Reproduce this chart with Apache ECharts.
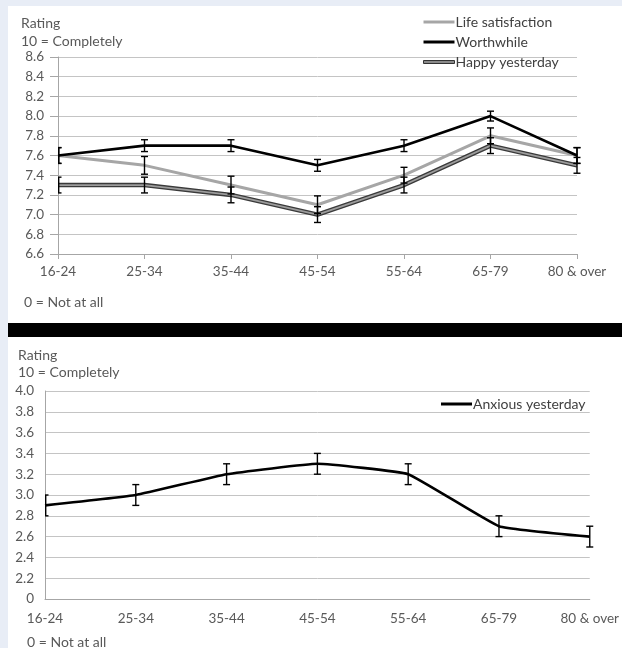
<!DOCTYPE html>
<html><head><meta charset="utf-8">
<script src="https://cdn.jsdelivr.net/npm/echarts@6/dist/echarts.min.js"></script>
<style>
html,body{margin:0;padding:0;background:#e8edf6;overflow:hidden;}
#wrap{position:relative;width:622px;height:648px;}
.p{position:absolute;}
#c{position:absolute;left:0;top:0;width:622px;height:648px;}
</style>
</head><body>
<div id="wrap">
<div class="p" style="left:8px;top:6px;width:614px;height:317px;background:#fff"></div>
<div class="p" style="left:8px;top:323px;width:614px;height:14px;background:#000"></div>
<div class="p" style="left:8px;top:337px;width:614px;height:311px;background:#fff"></div>
<div id="c"></div>
</div>
<script>
// ---- data ----
const categories = ['16-24','25-34','35-44','45-54','55-64','65-79','80 & over'];
const lifeSatisfaction = [7.6, 7.5, 7.3, 7.1, 7.4, 7.8, 7.6];
const lifeErr          = [0.08, 0.09, 0.09, 0.09, 0.08, 0.08, 0.08];
const worthwhile       = [7.6, 7.7, 7.7, 7.5, 7.7, 8.0, 7.6];
const worthErr         = [0.08, 0.06, 0.06, 0.06, 0.06, 0.05, 0.08];
const happyYesterday   = [7.3, 7.3, 7.2, 7.0, 7.3, 7.7, 7.5];
const happyErr         = [0.08, 0.08, 0.08, 0.08, 0.08, 0.08, 0.08];
const anxiousYesterday = [2.9, 3.0, 3.2, 3.3, 3.2, 2.7, 2.6];
const anxiousErr       = [0.1, 0.1, 0.1, 0.1, 0.1, 0.1, 0.1];
const topAxis = {min: 6.6, max: 8.6, step: 0.2};
const bottomAxis = {min: 2.0, max: 4.0, step: 0.2, breakLabel: '0'};

const FONT = 'Lato, "Open Sans", sans-serif';
const TXT = '#595959';
const GRID = '#c4c4c4';
const AXIS = '#a6a6a6';

function errData(vals, errs){
  return vals.map((v,i)=>[i, +(v-errs[i]).toFixed(3), +(v+errs[i]).toFixed(3)]);
}
function errRender(params, api){
  const x = api.value(0), lo = api.value(1), hi = api.value(2);
  const a = api.coord([x, lo]), b = api.coord([x, hi]);
  const left = params.coordSys.x;
  const w = 3.5, st = {stroke:'#000', lineWidth:1.4};
  const x0 = Math.max(a[0]-w, left), x1 = a[0]+w;
  const xl = Math.max(a[0], left + 0.7);
  return {type:'group', children:[
    {type:'line', shape:{x1:xl,y1:a[1],x2:xl,y2:b[1]}, style:st},
    {type:'line', shape:{x1:x0,y1:a[1],x2:x1,y2:a[1]}, style:st},
    {type:'line', shape:{x1:x0,y1:b[1],x2:x1,y2:b[1]}, style:st}
  ]};
}
function txt(x, y, t){
  return {type:'text', x:x, y:y, style:{text:t, fill:TXT, font:'14px ' + FONT, verticalAlign:'middle'}};
}

const chart = echarts.init(document.getElementById('c'), null, {renderer:'canvas'});
chart.setOption({
  animation:false,
  backgroundColor:'transparent',
  textStyle:{fontFamily:FONT},
  grid:[
    {left:58, top:57, width:519, height:197},
    {left:45, top:391, width:551, height:208}
  ],
  xAxis:[
    {gridIndex:0, type:'category', data:categories, boundaryGap:false,
     axisLine:{lineStyle:{color:AXIS}}, axisTick:{show:true, length:5, lineStyle:{color:AXIS}},
     axisLabel:{color:TXT, fontSize:13.5, margin:11, fontFamily:FONT}, splitLine:{show:false}},
    {gridIndex:1, type:'category', data:categories, boundaryGap:false,
     axisLine:{lineStyle:{color:AXIS}}, axisTick:{show:false},
     axisLabel:{color:TXT, fontSize:13.5, margin:13, fontFamily:FONT}, splitLine:{show:false}}
  ],
  yAxis:[
    {gridIndex:0, type:'value', min:topAxis.min, max:topAxis.max, interval:topAxis.step,
     axisLine:{show:true, lineStyle:{color:AXIS}}, axisTick:{show:true, length:8, lineStyle:{color:AXIS}},
     axisLabel:{color:TXT, fontSize:13.5, margin:14, fontFamily:FONT, formatter:v=>v.toFixed(1)},
     splitLine:{lineStyle:{color:GRID}}},
    {gridIndex:1, type:'value', min:bottomAxis.min, max:bottomAxis.max, interval:bottomAxis.step,
     axisLine:{show:true, lineStyle:{color:AXIS}}, axisTick:{show:false},
     axisLabel:{color:TXT, fontSize:13.5, margin:11, fontFamily:FONT,
       formatter:v=>Math.abs(v-bottomAxis.min)<1e-6 ? bottomAxis.breakLabel : v.toFixed(1)},
     splitLine:{lineStyle:{color:GRID}}}
  ],
  legend:[
    {orient:'vertical', left:423, top:15, padding:0, itemWidth:31, itemHeight:3, itemGap:6,
     textStyle:{color:'#404040', fontSize:14, fontFamily:FONT, padding:[0,0,0,-4]},
     data:[
       {name:'Life satisfaction', icon:'rect', itemStyle:{color:'#a6a6a6'}},
       {name:'Worthwhile', icon:'rect', itemStyle:{color:'#000'}},
       {name:'Happy yesterday', icon:'rect', itemStyle:{color:'#8a8a8a', borderColor:'#333', borderWidth:1}}
     ]},
    {orient:'vertical', left:441, top:397, padding:0, itemWidth:31, itemHeight:3,
     textStyle:{color:'#404040', fontSize:14, fontFamily:FONT, padding:[0,0,0,-4]},
     data:[{name:'Anxious yesterday', icon:'rect', itemStyle:{color:'#000'}}]}
  ],
  graphic:[
    txt(21, 23, 'Rating'),
    txt(21, 41, '10 = Completely'),
    txt(24, 302, '0 = Not at all'),
    txt(18, 355, 'Rating'),
    txt(18, 372, '10 = Completely'),
    txt(27, 642, '0 = Not at all')
  ],
  series:[
    {name:'Life satisfaction', type:'line', xAxisIndex:0, yAxisIndex:0, data:lifeSatisfaction,
     showSymbol:false, lineStyle:{color:'#a6a6a6', width:3}, itemStyle:{color:'#a6a6a6'}, z:2},
    {name:'Happy yesterday', type:'line', xAxisIndex:0, yAxisIndex:0, data:happyYesterday,
     showSymbol:false, lineStyle:{color:'#3a3a3a', width:4.5}, itemStyle:{color:'#3a3a3a'}, z:3},
    {name:'Happy yesterday inner', type:'line', xAxisIndex:0, yAxisIndex:0, data:happyYesterday,
     showSymbol:false, lineStyle:{color:'#9c9c9c', width:1.8}, itemStyle:{color:'#9c9c9c'}, z:4, silent:true},
    {name:'Worthwhile', type:'line', xAxisIndex:0, yAxisIndex:0, data:worthwhile,
     showSymbol:false, lineStyle:{color:'#000', width:2.6}, itemStyle:{color:'#000'}, z:5},
    {name:'errLife', type:'custom', xAxisIndex:0, yAxisIndex:0, data:errData(lifeSatisfaction, lifeErr),
     renderItem:errRender, encode:{x:0, y:[1,2]}, clip:false, z:6},
    {name:'errHappy', type:'custom', xAxisIndex:0, yAxisIndex:0, data:errData(happyYesterday, happyErr),
     renderItem:errRender, encode:{x:0, y:[1,2]}, clip:false, z:6},
    {name:'errWorth', type:'custom', xAxisIndex:0, yAxisIndex:0, data:errData(worthwhile, worthErr),
     renderItem:errRender, encode:{x:0, y:[1,2]}, clip:false, z:6},
    {name:'Anxious yesterday', type:'line', xAxisIndex:1, yAxisIndex:1, data:anxiousYesterday,
     showSymbol:false, smooth:0.1, lineStyle:{color:'#000', width:2.6}, itemStyle:{color:'#000'}, z:5},
    {name:'errAnx', type:'custom', xAxisIndex:1, yAxisIndex:1, data:errData(anxiousYesterday, anxiousErr),
     renderItem:errRender, encode:{x:0, y:[1,2]}, clip:false, z:6}
  ]
});
</script>
</body></html>
